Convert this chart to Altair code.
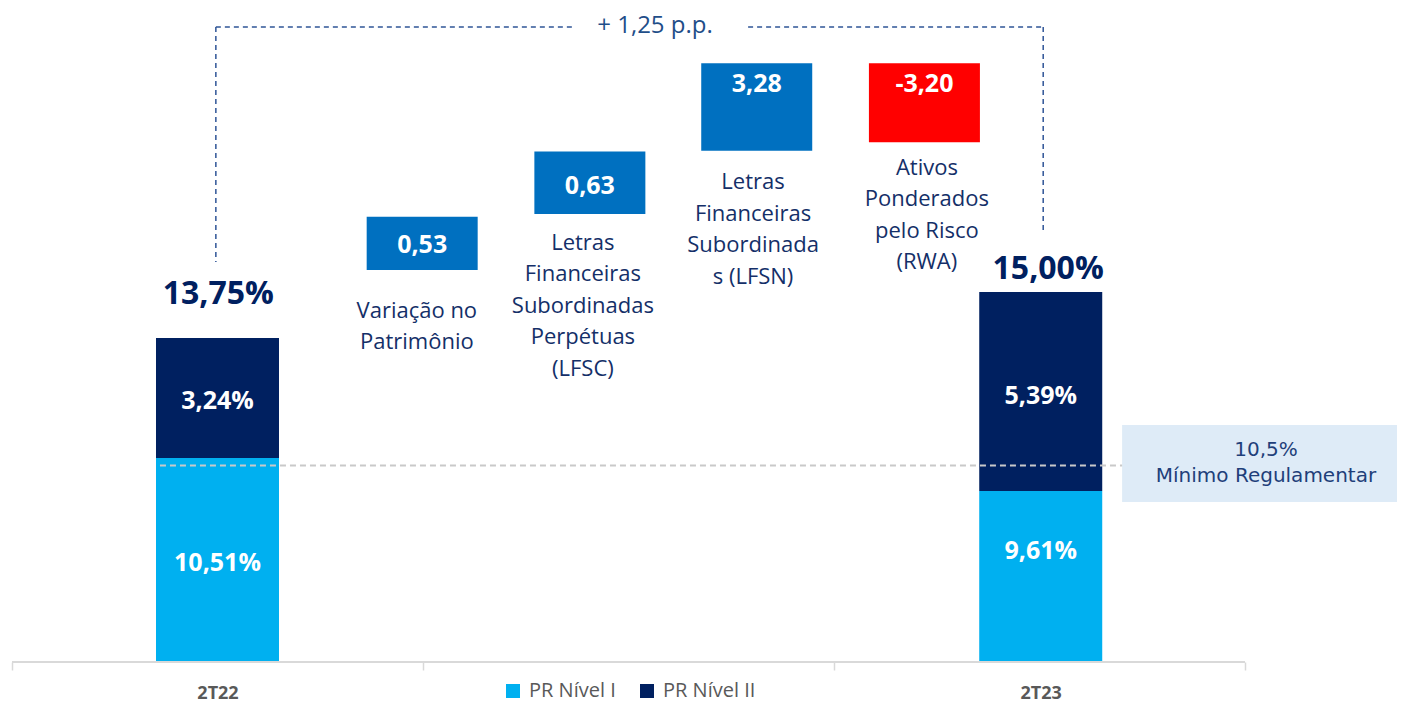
import altair as alt
import pandas as pd

# ---------------- data ----------------
# chart unit: the 2T22 total (13,75) is the anchor of the vertical scale;
# other drawn extents in that same unit.
periods = ["2T22", "2T23"]
period_slot = [0.500, 2.503]
pr1_values = [10.51, 9.61]          # PR Nível I (%)
pr2_values = [3.24, 5.39]           # PR Nível II (%)
totals = [13.75, 15.00]
pr1_drawn = [8.66, 7.26]
total_drawn = [13.75, 15.70]
pr1_label_at = [4.20, 4.72]
pr2_label_at = [11.06, 11.27]
total_label_at = [15.60, 16.68]
total_label_slot = [0.502, 2.521]

steps = [
    "Variação no\nPatrimônio",
    "Letras\nFinanceiras\nSubordinadas\nPerpétuas\n(LFSC)",
    "Letras\nFinanceiras\nSubordinada\ns (LFSN)",
    "Ativos\nPonderados\npelo Risco\n(RWA)",
]
step_values = [0.53, 0.63, 3.28, -3.20]
step_slot = [0.998, 1.406, 1.812, 2.220]
step_bottom = [16.64, 19.01, 21.70, 22.06]
step_top = [18.90, 21.66, 25.41, 25.41]
step_value_at = [17.68, 20.18, 24.55, 24.55]
step_name_at = [14.90, 17.80, 20.35, 20.98]   # first line of each name
step_name_slot = [0.985, 1.389, 1.803, 2.226]

variation_text = "+ 1,25 p.p."
variation_text_at = 27.00
variation_text_slot = 1.5645
bracket_level = 26.95
bracket_slots = [0.496, 2.509]
bracket_ends = [16.98, 18.25]
bracket_gap = [1.365, 1.791]

minimum_text = "10,5%\nMínimo Regulamentar"
minimum_drawn = 8.34
minimum_line_from = 0.360
minimum_box_slot = [2.701, 3.39]
minimum_box_range = [6.79, 10.06]
minimum_text_at = 8.98          # first line
minimum_text_slot = 3.051

axis_ticks = [0, 1, 2, 3]
levels = ["PR Nível I", "PR Nível II"]

# ---------------- styles ----------------
LIGHT = "#00b0f0"
NAVY = "#002060"
BOX_BLUE = "#0070c0"
RED = "#ff0000"
TEXT_NAVY = "#142f68"
FONT = "Open Sans"


def pt(v):
    return f"{v:.2f}".replace(".", ",")


bars_rows = []
for i, p in enumerate(periods):
    bars_rows.append(dict(period=p, slot=period_slot[i], level=levels[0], bottom=0.0,
                          top=pr1_drawn[i], label_at=pr1_label_at[i], label=pt(pr1_values[i]) + "%"))
    bars_rows.append(dict(period=p, slot=period_slot[i], level=levels[1], bottom=pr1_drawn[i],
                          top=total_drawn[i], label_at=pr2_label_at[i], label=pt(pr2_values[i]) + "%"))
bars_df = pd.DataFrame(bars_rows)

totals_df = pd.DataFrame(dict(slot=total_label_slot, at=total_label_at,
                              label=[pt(t) + "%" for t in totals]))

steps_df = pd.DataFrame(dict(
    name=steps, value=step_values, slot=step_slot, bottom=step_bottom, top=step_top,
    value_at=step_value_at, name_at=step_name_at, name_slot=step_name_slot,
    color=[BOX_BLUE if v >= 0 else RED for v in step_values],
    label=[pt(v) for v in step_values],
))

bracket_df = pd.DataFrame([
    dict(x=bracket_slots[0], x2=bracket_gap[0], y=bracket_level, y2=bracket_level),
    dict(x=bracket_gap[1], x2=bracket_slots[1], y=bracket_level, y2=bracket_level),
    dict(x=bracket_slots[0], x2=bracket_slots[0], y=bracket_level, y2=bracket_ends[0]),
    dict(x=bracket_slots[1], x2=bracket_slots[1], y=bracket_level, y2=bracket_ends[1]),
])

var_df = pd.DataFrame(dict(slot=[variation_text_slot], at=[variation_text_at], label=[variation_text]))
min_line_df = pd.DataFrame(dict(x=[minimum_line_from], x2=[minimum_box_slot[0]], y=[minimum_drawn]))
min_box_df = pd.DataFrame(dict(x=[minimum_box_slot[0]], x2=[minimum_box_slot[1]],
                               y=[minimum_box_range[0]], y2=[minimum_box_range[1]]))
min_text_df = pd.DataFrame(dict(slot=[minimum_text_slot], at=[minimum_text_at], label=[minimum_text]))
axis_df = pd.DataFrame(dict(x=[axis_ticks[0]], x2=[axis_ticks[-1]], y=[0.0]))

xs = alt.Scale(domain=[-0.00973, 3.36983], nice=False, zero=False, padding=0)
ys = alt.Scale(domain=[0, 27.755], nice=False, zero=False)

label_values = sorted(axis_ticks + period_slot)
label_expr = " : ".join(
    [f"abs(datum.value - {s}) < 0.01 ? '{p}'" for p, s in zip(periods, period_slot)]
) + " : ''"
tick_test = " || ".join([f"abs(datum.value - {s}) < 0.01" for s in period_slot])

x_axis = alt.Axis(
    values=label_values, labelExpr=label_expr, title=None, grid=False, domain=False,
    ticks=True, tickSize=8, tickColor="#d9d9d9", tickWidth=1.5,
    tickOpacity={"condition": {"test": tick_test, "value": 0}, "value": 1},
    labelFont=FONT, labelFontWeight="bold", labelFontSize=18, labelColor="#595959",
    labelPadding=23, labelBaseline="middle", labelOverlap=False, labelFlush=False,
)


def X(field):
    return alt.X(field, type="quantitative", scale=xs, axis=x_axis)


def Y(field):
    return alt.Y(field, type="quantitative", scale=ys, axis=None)


min_box = alt.Chart(min_box_df).mark_rect(color="#deebf7").encode(
    x=X("x"), x2="x2:Q", y=Y("y"), y2="y2:Q")

bars = alt.Chart(bars_df).mark_bar(size=123).encode(
    x=X("slot"), y=Y("top"), y2="bottom:Q",
    color=alt.Color("level:N", scale=alt.Scale(domain=levels, range=[LIGHT, NAVY]),
                    legend=alt.Legend(orient="none", legendX=495, legendY=673, direction="horizontal",
                                      title=None, symbolType="square", symbolSize=196,
                                      symbolStrokeWidth=0, labelFont=FONT, labelFontSize=20,
                                      labelColor="#595959", labelOffset=6, columnPadding=21,
                                      padding=0)),
)

boxes = alt.Chart(steps_df).mark_bar(size=111).encode(
    x=X("slot"), y=Y("top"), y2="bottom:Q",
    color=alt.Color("color:N", scale=None),
)

min_line = alt.Chart(min_line_df).mark_rule(color="#c9c9c9", strokeWidth=2, strokeDash=[6, 4]).encode(
    x=X("x"), x2="x2:Q", y=Y("y"))

bracket = alt.Chart(bracket_df).mark_rule(color="#2f5597", strokeWidth=1.5, strokeDash=[5, 4]).encode(
    x=X("x"), x2="x2:Q", y=Y("y"), y2="y2:Q")

axis_line = alt.Chart(axis_df).mark_rule(color="#d9d9d9", strokeWidth=2).encode(
    x=X("x"), x2="x2:Q", y=Y("y"))

bar_labels = alt.Chart(bars_df).mark_text(font=FONT, fontWeight="bold", fontSize=25, color="white",
                                          baseline="middle", align="center").encode(
    x=X("slot"), y=Y("label_at"), text="label:N")

total_labels = alt.Chart(totals_df).mark_text(font=FONT, fontWeight="bold", fontSize=32, color=NAVY,
                                              baseline="middle", align="center").encode(
    x=X("slot"), y=Y("at"), text="label:N")

step_value_labels = alt.Chart(steps_df).mark_text(font=FONT, fontWeight="bold", fontSize=25, color="white",
                                                  baseline="middle", align="center").encode(
    x=X("slot"), y=Y("value_at"), text="label:N")

step_name_labels = alt.Chart(steps_df).mark_text(font=FONT, fontSize=22, color=TEXT_NAVY, lineBreak="\n",
                                                 lineHeight=31.5, baseline="middle", align="center").encode(
    x=X("name_slot"), y=Y("name_at"), text="name:N")

var_label = alt.Chart(var_df).mark_text(font=FONT, fontSize=24, color="#1f4e89",
                                        baseline="middle", align="center").encode(
    x=X("slot"), y=Y("at"), text="label:N")

min_label = alt.Chart(min_text_df).mark_text(font="DejaVu Sans", fontSize=20, color="#1f3f7a", lineBreak="\n",
                                             lineHeight=25.5, baseline="middle", align="center").encode(
    x=X("slot"), y=Y("at"), text="label:N")

chart = alt.layer(
    min_box, bars, boxes, min_line, bracket, axis_line,
    bar_labels, total_labels, step_value_labels, step_name_labels, var_label, min_label,
).resolve_scale(color="independent").properties(
    width=1389, height=654,
    autosize=alt.AutoSizeParams(type="none"),
    padding={"left": 0, "right": 0, "top": 0, "bottom": 42},
).configure_view(stroke=None)

chart.save("out.html", embed_options={"renderer": "svg", "actions": False})
